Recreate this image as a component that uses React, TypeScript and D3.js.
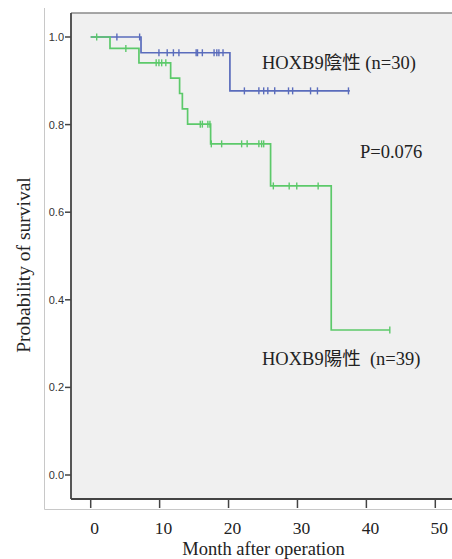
import React from "react";
import * as d3 from "d3";

const xTicks = [0, 10, 20, 30, 40, 50];
const yTicks = [0, 0.2, 0.4, 0.6, 0.8, 1.0];

// HOXB9 negative (n=30)
const negEventTimes = [7.3, 20.2];
const negSurvival = [0.964, 0.877];
const negEnd = 37.6;
const negCensor = [3.8, 7.1, 9.9, 11.1, 12.0, 12.8, 15.3, 15.5, 16.2, 17.9, 18.3, 18.6, 19.2,
  22.3, 24.4, 25.1, 25.7, 26.7, 28.7, 29.3, 31.9, 32.9, 37.4];

// HOXB9 positive (n=39)
const posEventTimes = [2.8, 7.0, 11.6, 12.9, 13.3, 14.06, 17.4, 26.1, 34.9];
const posSurvival = [0.974, 0.941, 0.906, 0.871, 0.836, 0.801, 0.756, 0.66, 0.331];
const posEnd = 43.4;
const posCensor = [0.87, 5.1, 9.5, 9.9, 10.3, 10.9, 15.9, 16.2, 17.0, 17.3, 17.5, 19.0, 21.9,
  22.7, 24.4, 24.8, 25.1, 26.5, 28.8, 29.9, 33.0, 43.4];

const W = 452;
const H = 559;
const x = d3.scaleLinear().domain([0, 50]).range([90.7, 435.3]);
const y = d3.scaleLinear().domain([0, 1]).range([475, 37]);

function stepPoints(times: number[], surv: number[], end: number): [number, number][] {
  const pts: [number, number][] = [[0, 1]];
  times.forEach((t, i) => pts.push([t, surv[i]]));
  pts.push([end, surv[surv.length - 1]]);
  return pts;
}

function survAt(times: number[], surv: number[], t: number): number {
  let s = 1;
  times.forEach((tt, i) => {
    if (tt <= t) s = surv[i];
  });
  return s;
}

const line = d3
  .line<[number, number]>()
  .x((d) => x(d[0]))
  .y((d) => y(d[1]))
  .curve(d3.curveStepAfter);

const BLUE = "#5a6cbc";
const GREEN = "#5cc96a";

function Curve({ times, surv, end, censor, color }: any) {
  const pts = stepPoints(times, surv, end);
  return (
    <g>
      <path d={line(pts) || ""} fill="none" stroke={color} strokeWidth={1.7} />
      {censor.map((t: number, i: number) => {
        const s = survAt(times, surv, t);
        return (
          <line
            key={i}
            x1={x(t)}
            x2={x(t)}
            y1={y(s) - 3.5}
            y2={y(s) + 3.5}
            stroke={color}
            strokeWidth={1.4}
          />
        );
      })}
    </g>
  );
}

export default function App() {
  const left = 71;
  const bottom = 499;
  const top = 13;
  const serif = "'Liberation Serif', 'Noto Sans CJK TC', serif";
  return (
    <div style={{ position: "absolute", left: 0, top: 0 }}>
      <svg width={W} height={H} style={{ display: "block", background: "#fff" }}>
        {/* outer gray frame */}
        <line x1={44.5} x2={44.5} y1={8} y2={509.5} stroke="#c8c8c8" strokeWidth={1} />
        <line x1={44.5} x2={W} y1={509.5} y2={509.5} stroke="#c8c8c8" strokeWidth={1} />
        {/* plot background */}
        <rect x={left} y={top} width={W - left} height={bottom - top} fill="#f0f0f0" />
        <line x1={left} x2={W} y1={top} y2={top} stroke="#8a8a8a" strokeWidth={1.5} />
        <line x1={left} x2={left} y1={top} y2={bottom} stroke="#444" strokeWidth={1.8} />
        <line x1={left} x2={W} y1={bottom} y2={bottom} stroke="#444" strokeWidth={1.8} />
        {/* y ticks */}
        {yTicks.map((t) => (
          <g key={t}>
            <line x1={65} x2={left} y1={y(t)} y2={y(t)} stroke="#444" strokeWidth={1.5} />
            <text
              x={64}
              y={y(t) + 4}
              textAnchor="end"
              fontFamily="'Liberation Sans', Arial, sans-serif"
              fontSize={11}
              fill="#333"
            >
              {t.toFixed(1)}
            </text>
          </g>
        ))}
        {/* x ticks */}
        {xTicks.map((t) => (
          <g key={t}>
            <line x1={x(t)} x2={x(t)} y1={bottom} y2={508} stroke="#444" strokeWidth={1.5} />
            <text x={x(t) + 4} y={534} textAnchor="middle" fontFamily={serif} fontSize={17.5} fill="#222">
              {t}
            </text>
          </g>
        ))}
        <text x={263.5} y={555} textAnchor="middle" fontFamily={serif} fontSize={18.5} fill="#222">
          Month after operation
        </text>
        <text
          transform="translate(30,265) rotate(-90)"
          textAnchor="middle"
          fontFamily={serif}
          fontSize={19.5}
          fill="#222"
        >
          Probability of survival
        </text>
        <Curve times={negEventTimes} surv={negSurvival} end={negEnd} censor={negCensor} color={BLUE} />
        <Curve times={posEventTimes} surv={posSurvival} end={posEnd} censor={posCensor} color={GREEN} />
        <text x={262} y={69} fontFamily={serif} fontSize={18.5} fill="#222">
          HOXB9陰性 (n=30)
        </text>
        <text x={360} y={158} fontFamily={serif} fontSize={18.5} fill="#222">
          P=0.076
        </text>
        <text x={262} y={365} fontFamily={serif} fontSize={18.5} fill="#222" style={{ whiteSpace: "pre" }}>
          {"HOXB9陽性  (n=39)"}
        </text>
      </svg>
    </div>
  );
}
